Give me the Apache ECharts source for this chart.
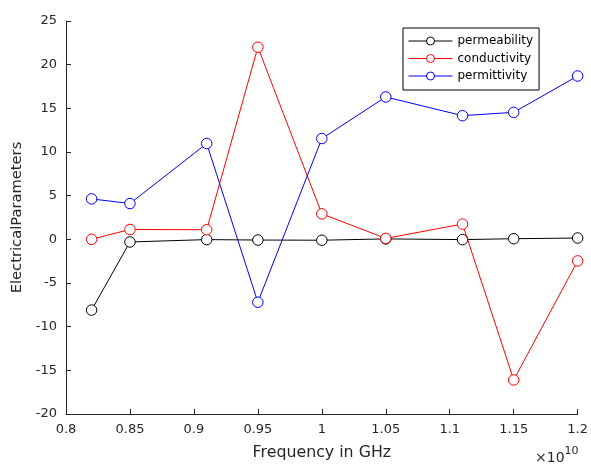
<!DOCTYPE html>
<html>
<head>
<meta charset="utf-8">
<script src="https://cdn.jsdelivr.net/npm/echarts@6/dist/echarts.min.js"></script>
<style>html,body{margin:0;padding:0;background:#fff;}#c{width:591px;height:466px;}</style>
</head>
<body>
<div id="c"></div>
<script>
// Frequency in Hz
var frequency = [8.2e9, 8.5e9, 9.1e9, 9.5e9, 1.0e10, 1.05e10, 1.11e10, 1.15e10, 1.2e10];
var permeability = [-8.1, -0.3, -0.03, -0.08, -0.1, 0.05, -0.03, 0.07, 0.15];
var conductivity = [0.0, 1.13, 1.1, 22.0, 2.92, 0.11, 1.75, -16.1, -2.47];
var permittivity = [4.63, 4.1, 10.97, -7.2, 11.54, 16.3, 14.16, 14.54, 18.7];
var seriesNames = ['permeability', 'conductivity', 'permittivity'];
var seriesColors = ['#000000', '#ff0000', '#0000ff'];

function pairs(ys) { return frequency.map(function (x, i) { return [x, ys[i]]; }); }
var allData = [permeability, conductivity, permittivity];

var FONT = 'DejaVu Sans, Liberation Sans, sans-serif';
var chart = echarts.init(document.getElementById('c'));
var axisCol = '#262626';
chart.setOption({
  animation: false,
  backgroundColor: '#ffffff',
  textStyle: { fontFamily: FONT },
  grid: { left: 66, right: 11, top: 21, bottom: 50, containLabel: false },
  legend: {
    orient: 'vertical',
    left: 403, top: 28,
    padding: [7, 6, 8, 5],
    itemGap: 5.5,
    itemWidth: 44, itemHeight: 10,
    backgroundColor: '#ffffff',
    borderColor: '#000000', borderWidth: 1, borderRadius: 0,
    textStyle: { fontSize: 12, color: '#000', fontFamily: FONT },
    data: seriesNames.map(function (n, i) {
      return {
        name: n,
        lineStyle: { color: seriesColors[i], width: 1 },
        itemStyle: { color: '#ffffff', borderColor: seriesColors[i], borderWidth: 1 }
      };
    })
  },
  xAxis: {
    type: 'value', min: 8e9, max: 1.2e10, interval: 5e8,
    name: 'Frequency in GHz', nameLocation: 'middle', nameGap: 31,
    nameTextStyle: { fontSize: 15.8, color: axisCol, fontFamily: FONT },
    axisLine: { show: true, onZero: false, lineStyle: { color: axisCol, width: 1 } },
    axisTick: { show: true, inside: true, length: 5, lineStyle: { color: axisCol } },
    axisLabel: { fontSize: 13, color: axisCol, margin: 9, fontFamily: FONT, formatter: function (v) { return String(+(v / 1e10).toFixed(2)); } },
    splitLine: { show: false }
  },
  yAxis: {
    type: 'value', min: -20, max: 25, interval: 5,
    name: 'ElectricalParameters', nameLocation: 'middle', nameGap: 38,
    nameTextStyle: { fontSize: 14.7, color: axisCol, fontFamily: FONT },
    axisLine: { show: true, onZero: false, lineStyle: { color: axisCol, width: 1 } },
    axisTick: { show: true, inside: true, length: 5, lineStyle: { color: axisCol } },
    axisLabel: { fontSize: 13, color: axisCol, margin: 9, fontFamily: FONT },
    splitLine: { show: false }
  },
  graphic: [{
    type: 'text', left: 535, top: 446,
    style: {
      text: '{a|×10}{b|10}',
      rich: {
        a: { fontSize: 14, fill: axisCol, fontFamily: FONT, verticalAlign: 'bottom' },
        b: { fontSize: 11, fill: axisCol, fontFamily: FONT, verticalAlign: 'top', padding: [0, 0, 8, 0] }
      }
    }
  }],
  series: seriesNames.map(function (n, i) {
    return {
      name: n, type: 'line', data: pairs(allData[i]),
      color: seriesColors[i],
      symbol: 'circle', symbolSize: 10.5,
      showAllSymbol: true,
      lineStyle: { color: seriesColors[i], width: 1 },
      itemStyle: { color: '#ffffff', borderColor: seriesColors[i], borderWidth: 1 },
      emphasis: { disabled: true },
      z: 2 + i
    };
  })
});
</script>
</body>
</html>
